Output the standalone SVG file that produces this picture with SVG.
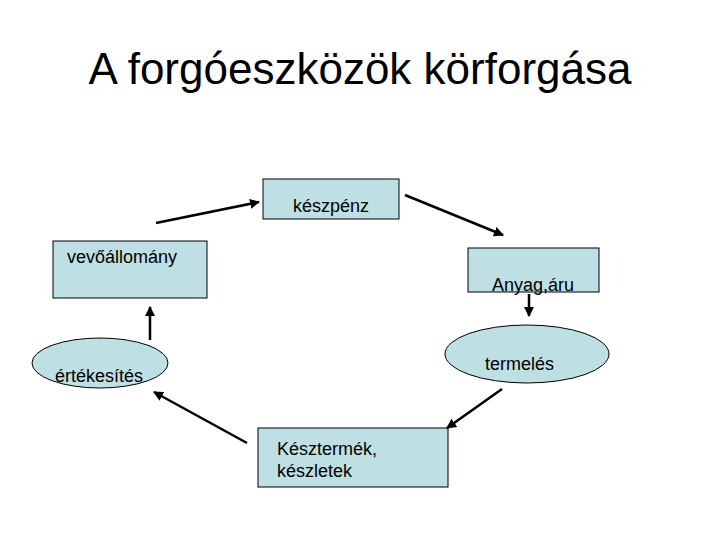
<svg xmlns="http://www.w3.org/2000/svg" width="720" height="540" viewBox="0 0 720 540">
<style>
.box{fill:#BEDFE3;stroke:#000;stroke-width:1}
.lbl{font-family:"Liberation Sans",Arial,sans-serif;font-size:18px;fill:#000}
.title{font-family:"Liberation Sans",Arial,sans-serif;font-size:44px;fill:#000}
.conn{stroke:#000;stroke-width:2.5;fill:none;marker-end:url(#ah)}
</style>
<defs>
<marker id="ah" viewBox="0 0 10 10" refX="9" refY="5" markerWidth="4" markerHeight="4" orient="auto" markerUnits="strokeWidth">
<path d="M0,0 L10,5 L0,10 z" fill="#000"/>
</marker>
</defs>
<rect width="720" height="540" fill="#fff"/>
<text class="title" x="360" y="84" text-anchor="middle">A forgóeszközök körforgása</text>
<g id="keszpenz">
<rect class="box" x="263" y="179" width="136" height="40"/>
<text class="lbl" x="293" y="212">készpénz</text>
</g>
<g id="anyagaru">
<rect class="box" x="468" y="248" width="131" height="44"/>
<text class="lbl" x="492" y="291">Anyag,áru</text>
</g>
<g id="termeles">
<ellipse class="box" cx="527" cy="354" rx="82" ry="29"/>
<text class="lbl" x="485" y="370">termelés</text>
</g>
<g id="késztermek">
<rect class="box" x="258" y="428" width="190" height="59"/>
<text class="lbl" x="277" y="455">Késztermék,</text>
<text class="lbl" x="277" y="477">készletek</text>
</g>
<g id="ertekesites">
<ellipse class="box" cx="100" cy="363" rx="68" ry="25"/>
<text class="lbl" x="55" y="382">értékesítés</text>
</g>
<g id="vevoallomany">
<rect class="box" x="53" y="241" width="154" height="57"/>
<text class="lbl" x="67" y="263">vevőállomány</text>
</g>
<g id="connectors">
<line class="conn" x1="156" y1="223" x2="259" y2="202"/>
<line class="conn" x1="405" y1="195" x2="503" y2="235"/>
<line class="conn" x1="529" y1="294" x2="529" y2="316"/>
<line class="conn" x1="502" y1="389" x2="447" y2="428"/>
<line class="conn" x1="247" y1="443" x2="154" y2="392"/>
<line class="conn" x1="150" y1="340" x2="150" y2="307"/>
</g>
</svg>
